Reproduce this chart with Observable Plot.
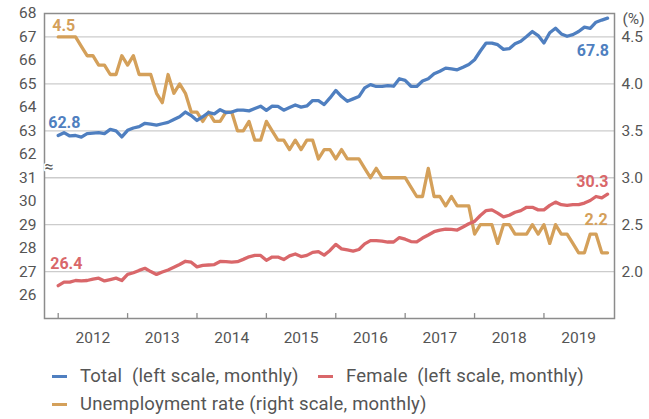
<!DOCTYPE html>
<html><head><meta charset="utf-8">
<script src="https://cdn.jsdelivr.net/npm/d3@7"></script>
<script src="https://cdn.jsdelivr.net/npm/@observablehq/plot@0.6"></script>
<style>
body{margin:0;background:#fff;font-family:Roboto,sans-serif;}
#chart{width:649px;height:419px;position:relative;overflow:hidden;}
#chart svg{position:absolute;left:0;top:0;}
.leg{position:absolute;font-size:18.5px;letter-spacing:0.2px;line-height:22px;color:#555;display:flex;align-items:center;white-space:pre;}
.sw{display:inline-block;width:15px;height:3px;margin-right:13px;}
</style></head><body><div id="chart"></div>
<script>
const years = [2012, 2013, 2014, 2015, 2016, 2017, 2018, 2019];
// monthly, Jan 2012 - Dec 2019
const total = [62.8,62.92,62.78,62.8,62.73,62.88,62.9,62.92,62.88,63.06,63.0,62.74,
63.02,63.12,63.18,63.32,63.28,63.24,63.3,63.36,63.48,63.6,63.8,63.65,
63.44,63.6,63.78,63.72,63.9,63.78,63.8,63.88,63.88,63.85,63.95,64.05,
63.87,64.05,64.04,63.88,63.99,64.1,64.01,64.06,64.29,64.29,64.12,64.4,
64.72,64.46,64.26,64.36,64.46,64.83,64.97,64.89,64.89,64.93,64.9,65.22,
65.15,64.9,64.89,65.12,65.22,65.43,65.54,65.67,65.64,65.6,65.71,65.83,
66.03,66.4,66.74,66.74,66.67,66.47,66.5,66.71,66.82,67.02,67.23,67.06,
66.74,67.18,67.37,67.13,67.03,67.1,67.23,67.42,67.37,67.63,67.72,67.8];
const female = [26.4,26.55,26.55,26.62,26.6,26.62,26.68,26.72,26.6,26.66,26.72,26.62,
26.88,26.95,27.05,27.14,27.0,26.88,26.98,27.07,27.18,27.3,27.44,27.4,
27.2,27.26,27.28,27.3,27.43,27.42,27.4,27.42,27.52,27.63,27.69,27.69,
27.48,27.62,27.62,27.51,27.67,27.75,27.64,27.69,27.82,27.85,27.7,27.9,
28.16,27.97,27.92,27.87,27.94,28.18,28.32,28.32,28.3,28.26,28.26,28.45,
28.38,28.28,28.27,28.43,28.56,28.7,28.77,28.81,28.8,28.77,28.9,29.04,
29.14,29.39,29.6,29.63,29.49,29.33,29.4,29.53,29.6,29.74,29.74,29.63,
29.63,29.82,29.96,29.85,29.82,29.85,29.85,29.92,30.03,30.2,30.14,30.3];
const unemployment = [4.5,4.5,4.5,4.5,4.4,4.3,4.3,4.2,4.2,4.1,4.1,4.3,
4.2,4.3,4.1,4.1,4.1,3.9,3.8,4.1,3.9,4.0,3.9,3.7,
3.7,3.6,3.7,3.6,3.6,3.7,3.7,3.5,3.5,3.6,3.4,3.4,
3.6,3.5,3.4,3.4,3.3,3.4,3.3,3.4,3.4,3.2,3.3,3.3,
3.2,3.3,3.2,3.2,3.2,3.1,3.0,3.1,3.0,3.0,3.0,3.0,
3.0,2.9,2.8,2.8,3.1,2.8,2.8,2.7,2.8,2.7,2.7,2.7,
2.4,2.5,2.5,2.5,2.3,2.5,2.5,2.4,2.4,2.4,2.5,2.4,
2.5,2.3,2.5,2.4,2.4,2.3,2.2,2.2,2.4,2.4,2.2,2.2];
const leftTicks = [26, 27, 28, 29, 30, 31, 62, 63, 64, 65, 66, 67, 68];
const rightTicks = [2.0, 2.5, 3.0, 3.5, 4.0, 4.5];
const gridValues = [27, 29, 31, 63, 65, 67];
const seriesNames = ["Total  (left scale, monthly)", "Female  (left scale, monthly)", "Unemployment rate (right scale, monthly)"];
const colors = ["#4f7fc0", "#d9676a", "#d4a05a"];

// broken left axis: 25–31 on the lower segment, 62–68 on the upper; right axis 1.5–4.75
const leftPos = v => v > 50 ? v - 55 : v - 25;
const rightPos = r => (r - 1.5) * 4;

const rows = arr => arr.map((v, i) => ({m: i, v}));
const totalRows = rows(total), femaleRows = rows(female), unempRows = rows(unemployment);
const last = a => a[a.length - 1];

const lbl = {fontWeight: "bold", fontSize: 16, text: d => d.v.toFixed(1)};

const chart = Plot.plot({
  width: 649, height: 350,
  marginTop: 13, marginBottom: 32, marginLeft: 44, marginRight: 35,
  style: {fontFamily: "Roboto, sans-serif", fontSize: "15.5px", color: "#555", background: "white"},
  x: {domain: [-2.37, 96.2]},
  y: {domain: [0, 13]},
  marks: [
    Plot.ruleY(gridValues, {y: leftPos, stroke: "#cccccc", strokeWidth: 1.3}),
    Plot.frame({stroke: "#8c8c8c", strokeWidth: 1.5}),
    Plot.ruleX(years.map((y, i) => i * 12), {x: d => d, y1: 0, y2: 0.21, stroke: "#8c8c8c", strokeWidth: 1.3}),
    Plot.axisX(years.map((y, i) => i * 12 + 6), {tickSize: 0, tickPadding: 13, label: null,
      tickFormat: d => String(years[Math.round((d - 6) / 12)])}),
    Plot.axisY(leftTicks.map(leftPos), {anchor: "left", tickSize: 0, tickPadding: 8, label: null,
      tickFormat: p => String(leftTicks.find(v => Math.abs(leftPos(v) - p) < 1e-6))}),
    Plot.axisY(rightTicks.map(rightPos), {anchor: "right", tickSize: 0, tickPadding: 7, label: null,
      tickFormat: p => rightTicks.find(v => Math.abs(rightPos(v) - p) < 1e-6).toFixed(1)}),
    Plot.text(["(%)"], {frameAnchor: "top-right", text: d => d, dx: 8, dy: 6, textAnchor: "start", lineAnchor: "middle", fill: "#555", fontSize: 15.5}),
    Plot.text([6.45], {y: d => d, frameAnchor: "left", text: () => "≈", fontSize: 16, fill: "#555", stroke: "white", strokeWidth: 3, paintOrder: "stroke"}),
    Plot.lineY(unempRows, {x: "m", y: d => rightPos(d.v), stroke: colors[2], strokeWidth: 3.3}),
    Plot.lineY(femaleRows, {x: "m", y: d => leftPos(d.v), stroke: colors[1], strokeWidth: 3.3}),
    Plot.lineY(totalRows, {x: "m", y: d => leftPos(d.v), stroke: colors[0], strokeWidth: 3.3}),
    Plot.text([unempRows[0]], {...lbl, x: "m", y: d => rightPos(d.v), fill: colors[2], textAnchor: "start", dx: -6, dy: -11}),
    Plot.text([totalRows[0]], {...lbl, x: "m", y: d => leftPos(d.v), fill: colors[0], textAnchor: "start", dx: -10, dy: -12.5}),
    Plot.text([femaleRows[0]], {...lbl, x: "m", y: d => leftPos(d.v), fill: colors[1], textAnchor: "start", dx: -8, dy: -21.5}),
    Plot.text([last(totalRows)], {...lbl, x: "m", y: d => leftPos(d.v), fill: colors[0], textAnchor: "end", dx: 1.5, dy: 33}),
    Plot.text([last(femaleRows)], {...lbl, x: "m", y: d => leftPos(d.v), fill: colors[1], textAnchor: "end", dx: 1, dy: -12}),
    Plot.text([last(unempRows)], {...lbl, x: "m", y: d => rightPos(d.v), fill: colors[2], textAnchor: "end", dx: 0, dy: -33})
  ]
});
const host = document.getElementById("chart");
host.appendChild(chart);
const legendPos = [[52, 365], [318, 365], [52, 393]];
seriesNames.forEach((name, i) => {
  const d = document.createElement("div");
  d.className = "leg";
  d.style.left = legendPos[i][0] + "px";
  d.style.top = legendPos[i][1] + "px";
  const sw = document.createElement("span");
  sw.className = "sw";
  sw.style.background = colors[i];
  d.appendChild(sw);
  d.appendChild(document.createTextNode(name));
  host.appendChild(d);
});
</script></body></html>
